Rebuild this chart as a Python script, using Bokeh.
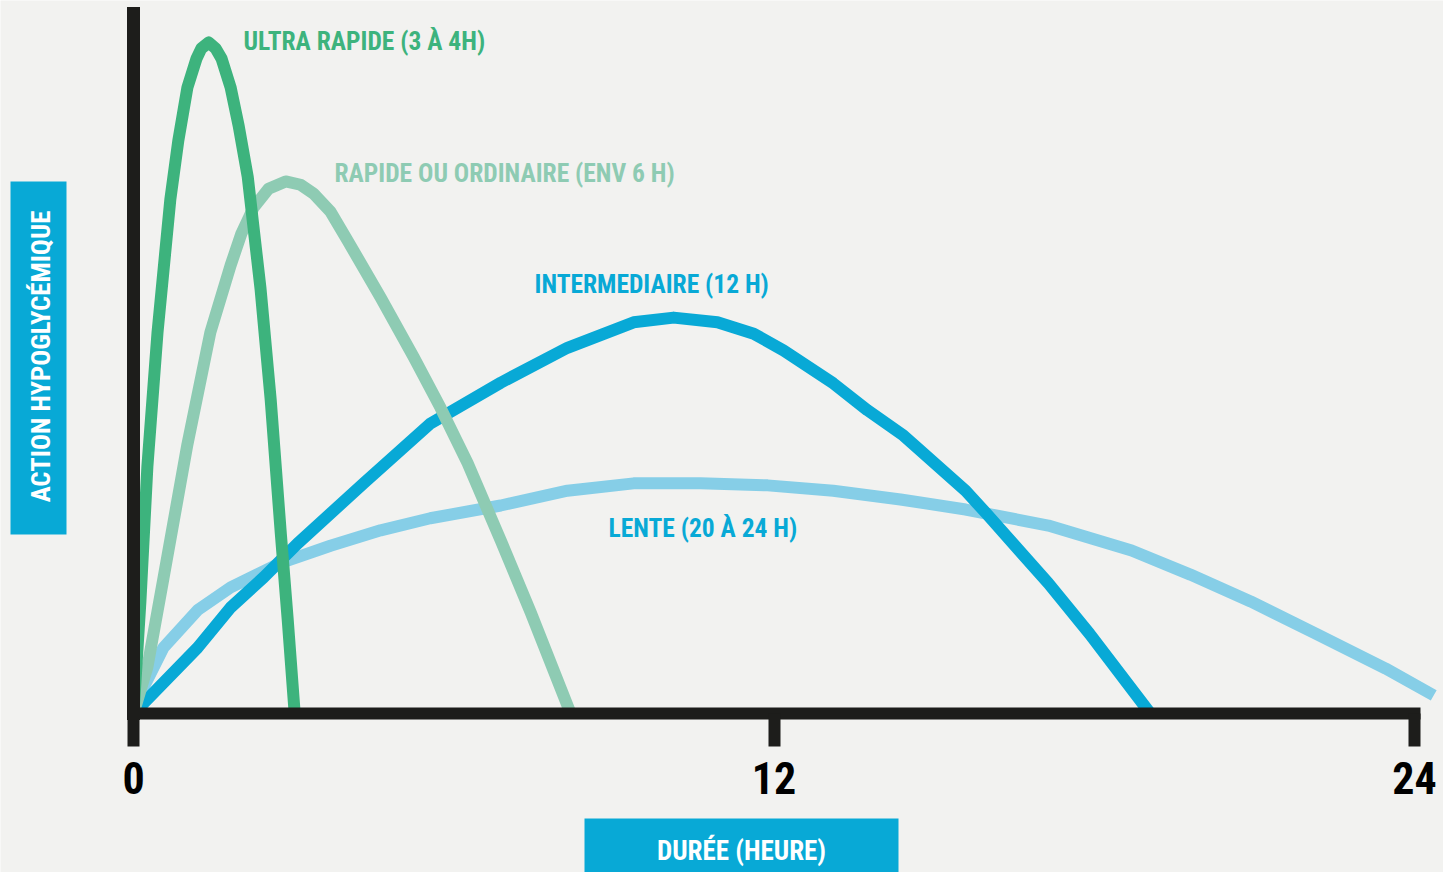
import math
from bokeh.plotting import figure
from bokeh.models import Range1d, FixedTicker, Label, BoxAnnotation
from bokeh.embed import file_html
from bokeh.resources import INLINE

# ---- data (hours, relative hypoglycaemic action) ----
ultra_t = [0, 0.13, 0.26, 0.45, 0.69, 0.84, 1.01, 1.18, 1.27, 1.41, 1.54, 1.65, 1.82, 1.97, 2.14, 2.38, 2.57, 2.76, 2.89, 3.02]
ultra_y = [0, 16.8, 36.8, 56.8, 76.6, 85.4, 93.3, 97.6, 99.1, 100, 99.1, 97.6, 93.3, 87.6, 80.0, 63.3, 46.8, 26.8, 13.9, 0]

rapide_t = [0, 0.26, 0.56, 1.01, 1.44, 1.82, 2.02, 2.25, 2.53, 2.85, 3.13, 3.37, 3.69, 4.01, 4.63, 5.25, 5.75, 6.26, 6.88, 7.44, 8.19]
rapide_y = [0, 6.9, 20.1, 40.1, 56.8, 66.8, 71.5, 75.4, 78.2, 79.3, 78.8, 77.5, 74.8, 70.5, 62.0, 53.1, 45.6, 37.3, 25.8, 15.1, 0]

inter_t = [0, 1.20, 1.82, 2.44, 3.07, 4.31, 5.56, 6.88, 8.13, 9.37, 10.12, 10.94, 11.62, 12.18, 13.11, 13.75, 14.43, 15.59, 15.98, 17.14, 17.91, 19.05]
inter_y = [0, 9.8, 15.8, 20.3, 25.3, 34.3, 43.2, 49.3, 54.5, 58.3, 59.0, 58.3, 56.6, 54.1, 49.2, 45.2, 41.4, 33.2, 29.8, 19.4, 11.9, 0]

lente_t = [0, 0.19, 0.56, 1.20, 1.82, 2.75, 3.69, 4.63, 5.56, 6.88, 8.13, 9.37, 10.62, 11.88, 13.11, 14.37, 15.59, 17.14, 18.70, 19.80, 20.93, 22.15, 23.46, 24.36]
lente_y = [0, 3.9, 9.8, 15.4, 18.8, 22.4, 25.0, 27.3, 29.1, 31.0, 33.2, 34.3, 34.3, 34.0, 33.2, 31.9, 30.4, 28.0, 24.3, 20.7, 16.7, 11.9, 6.7, 2.7]

x_ticks = [0, 12, 24]
series_names = ["ULTRA RAPIDE (3 À 4H)", "RAPIDE OU ORDINAIRE (ENV 6 H)",
                "INTERMEDIAIRE (12 H)", "LENTE (20 À 24 H)"]
y_title = "ACTION HYPOGLYCÉMIQUE"
x_title = "DURÉE (HEURE)"

# ---- layout ----
W, H = 1443, 872
X0, Y0 = 133, 713          # pixel position of origin
KX = (1414 - X0) / 24.0    # px per hour
KY = (Y0 - 42) / 100.0     # px per action unit

def hx(px):
    return (px - X0) / KX

def vy(py):
    return (Y0 - py) / KY

BG = "#f2f2f0"
INK = "#1d1d1b"
C_ULTRA = "#3db37d"
C_RAPIDE = "#8ecbb3"
C_INTER = "#08a9d6"
C_LENTE = "#86cee7"
BOX = "#08a9d6"
FONT = "'Liberation Sans Narrow', 'Roboto Condensed', 'Arial Narrow', Roboto, sans-serif"

p = figure(width=W, height=H, output_backend="svg", toolbar_location=None,
           x_range=Range1d(hx(0), hx(W)), y_range=Range1d(vy(H), vy(0)),
           min_border=0)
p.background_fill_color = BG
p.border_fill_color = BG
p.outline_line_color = None
p.grid.visible = False

# curves
lw = 12
p.line(lente_t, lente_y, line_color=C_LENTE, line_width=lw, line_join="round")
p.line(inter_t, inter_y, line_color=C_INTER, line_width=lw, line_join="round")
p.line(rapide_t, rapide_y, line_color=C_RAPIDE, line_width=lw, line_join="round")
p.line(ultra_t, ultra_y, line_color=C_ULTRA, line_width=lw, line_join="round")

# axes, fixed at the origin
xa = p.xaxis[0]
xa.fixed_location = 0
xa.ticker = FixedTicker(ticks=x_ticks)
xa.bounds = (0, 24)
xa.axis_line_color = INK
xa.axis_line_width = 12
xa.axis_line_cap = "square"
xa.major_tick_line_color = INK
xa.major_tick_line_width = 12
xa.major_tick_in = 0
xa.major_tick_out = 33
xa.minor_tick_line_color = None
xa.major_label_text_font = FONT
xa.major_label_text_font_style = "bold"
xa.major_label_text_font_size = "44px"
xa.major_label_text_color = "#000000"
xa.major_label_standoff = 15

ya = p.yaxis[0]
ya.fixed_location = 0
ya.ticker = FixedTicker(ticks=[])
ya.bounds = (0, vy(13))
ya.axis_line_color = INK
ya.axis_line_width = 13
ya.axis_line_cap = "square"
ya.major_tick_line_color = None
ya.minor_tick_line_color = None
ya.major_label_text_font_size = "0px"

# curve labels
lab_style = dict(text_font=FONT, text_font_style="bold", text_font_size="25.5px",
                 text_baseline="middle", text_align="left")
p.add_layout(Label(x=hx(243), y=vy(40), text=series_names[0], text_color=C_ULTRA, **lab_style))
p.add_layout(Label(x=hx(334), y=vy(172), text=series_names[1], text_color=C_RAPIDE, **lab_style))
p.add_layout(Label(x=hx(534), y=vy(283), text=series_names[2], text_color=C_INTER, **lab_style))
p.add_layout(Label(x=hx(608), y=vy(527), text=series_names[3], text_color=C_INTER, **lab_style))

# axis title boxes
p.add_layout(BoxAnnotation(left=hx(10), right=hx(66), top=vy(181), bottom=vy(534),
                           fill_color=BOX, fill_alpha=1, line_color=None))
p.add_layout(BoxAnnotation(left=hx(584), right=hx(898), top=vy(818), bottom=vy(880),
                           fill_color=BOX, fill_alpha=1, line_color=None))
p.add_layout(Label(x=hx(40), y=vy(356), text=y_title, angle=math.pi / 2,
                   text_color="white", text_font=FONT, text_font_style="bold", text_font_size="26.7px",
                   text_align="center", text_baseline="middle"))
p.add_layout(Label(x=hx(741), y=vy(850), text=x_title,
                   text_color="white", text_font=FONT, text_font_style="bold", text_font_size="27px",
                   text_align="center", text_baseline="middle"))

open("out.html", "w").write(file_html(p, INLINE))
